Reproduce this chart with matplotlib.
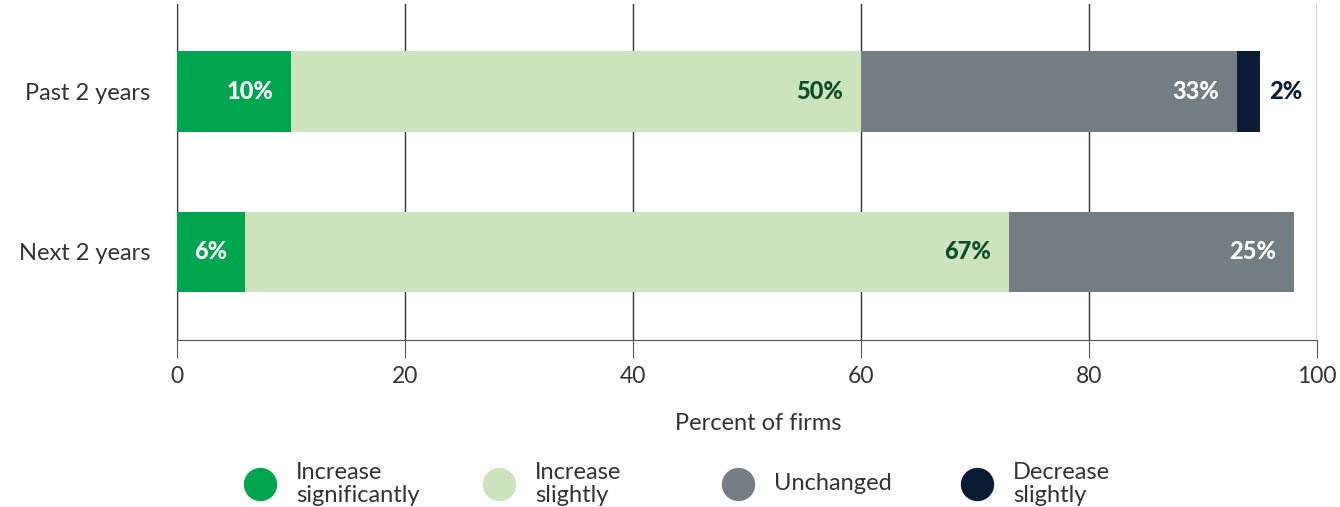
import matplotlib.pyplot as plt
import numpy as np

plt.rcParams['font.family'] = ['Lato', 'DejaVu Sans']

periods = ["Next 2 years", "Past 2 years"]
series_names = ["Increase\nsignificantly", "Increase\nslightly", "Unchanged", "Decrease\nslightly"]
inc_sig = [6, 10]
inc_sli = [67, 50]
unchanged = [25, 33]
dec_sli = [0, 2]
colors = ["#00a550", "#cce4bd", "#727e83", "#0b1b33"]
text_colors = ["white", "#0d4d25", "white", "#0b1b33"]
xticks = [0, 20, 40, 60, 80, 100]

fig = plt.figure(figsize=(13.4, 5.07), dpi=100)
ax = fig.add_axes([177/1340, 1 - 340/507, 1140/1340, 336/507])

y = np.arange(len(periods))
left = np.zeros(len(periods))
for vals, col, tcol in zip([inc_sig, inc_sli, unchanged, dec_sli], colors, text_colors):
    vals = np.array(vals, dtype=float)
    ax.barh(y, vals, left=left, height=0.5, color=col, zorder=3)
    for yi, l, v in zip(y, left, vals):
        if v == 0:
            continue
        label = f"{v:.0f}%"
        if v < 5:
            ax.annotate(label, (l + v, yi), xytext=(9, 0), textcoords="offset pixels",
                        ha="left", va="center", fontsize=17, fontweight="black", color=tcol, zorder=4)
        else:
            ax.annotate(label, (l + v, yi), xytext=(-18, 0), textcoords="offset pixels",
                        ha="right", va="center", fontsize=17, fontweight="black", color=tcol, zorder=4)
    left += vals

ax.set_xlim(0, 100)
ax.set_ylim(-0.55, 1.545)
ax.set_xticks(xticks)
ax.set_yticks(y)
ax.set_yticklabels(periods)
ax.grid(axis="x", color="#333333", linewidth=1, zorder=0)
for s in ["top", "right"]:
    ax.spines[s].set_visible(False)
ax.spines["left"].set_color("#333333")
ax.spines["bottom"].set_color("#555555")
ax.tick_params(axis="x", length=13, color="#555555", labelsize=16.5, labelcolor="#333333", pad=6)
ax.tick_params(axis="y", length=0, labelsize=17, labelcolor="#333333", pad=19)

ax.set_xlabel("Percent of firms", fontsize=17, color="#333333", va="center")
ax.xaxis.set_label_coords((758 - 177) / 1140, -(424 - 340) / 336)

# legend, evenly spaced like the original
for i, (name, col) in enumerate(zip(series_names, colors)):
    cx = (260 + 239 * i) / 1340
    cy = 1 - 484 / 507
    fig.add_artist(plt.Line2D([cx], [cy], marker="o", markersize=23, color=col,
                              linestyle="none", transform=fig.transFigure))
    fig.text(cx + 36 / 1340, cy, name, fontsize=17, color="#333333", va="center", ha="left",
             linespacing=1.1)

fig.savefig("out.png", dpi=100)
